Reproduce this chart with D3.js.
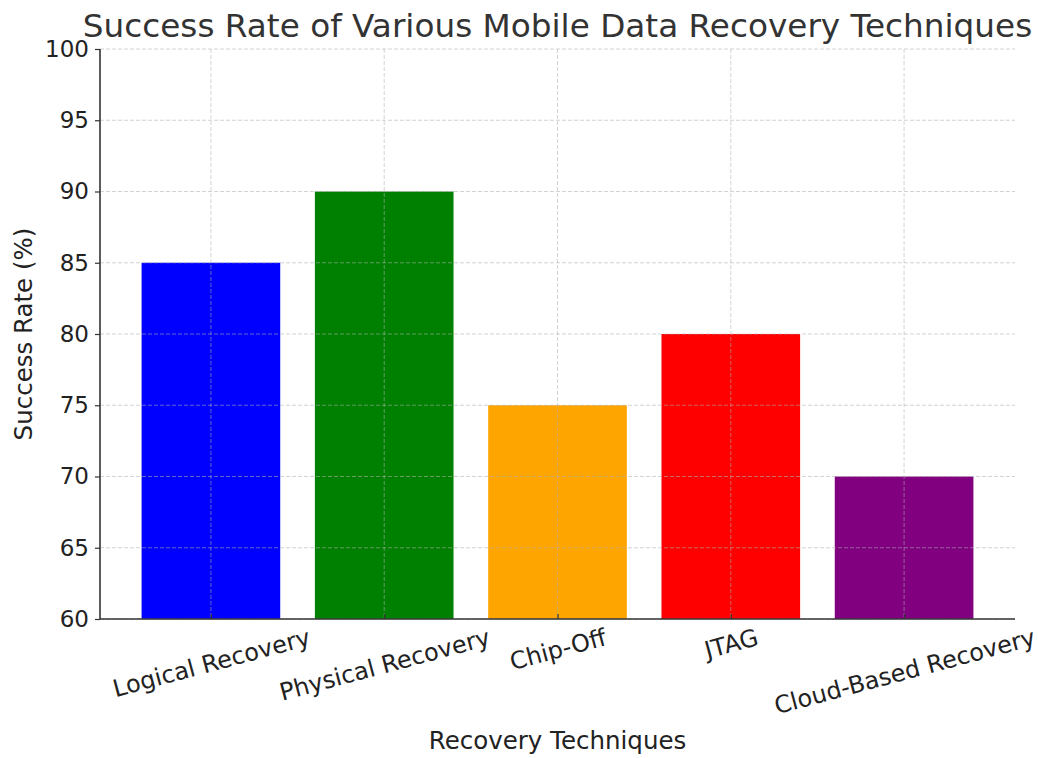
<!DOCTYPE html>
<html><head><meta charset="utf-8">
<script src="https://cdn.jsdelivr.net/npm/d3@7"></script>
<style>body{margin:0;background:#fff;} svg{display:block;font-family:"DejaVu Sans",sans-serif;}</style>
</head><body>
<script>
const categories = ["Logical Recovery","Physical Recovery","Chip-Off","JTAG","Cloud-Based Recovery"];
const values = [85, 90, 75, 80, 70];
const colors = ["blue","green","orange","red","purple"];
const yTicks = [60,65,70,75,80,85,90,95,100];
const title = "Success Rate of Various Mobile Data Recovery Techniques";
const xLabel = "Recovery Techniques";
const yLabel = "Success Rate (%)";

const W = 1038, H = 758;
const m = {left:100, right:23, top:49, bottom:139};
const svg = d3.select("body").append("svg").attr("width",W).attr("height",H);
const iw = W - m.left - m.right, ih = H - m.top - m.bottom;
const g = svg.append("g").attr("transform",`translate(${m.left},${m.top})`);

const x = d3.scaleLinear().domain([-0.64, categories.length - 1 + 0.64]).range([0, iw]);
const y = d3.scaleLinear().domain([60,100]).range([ih,0]);

// bars
g.selectAll("rect.bar").data(values).join("rect")
  .attr("x",(d,i)=>x(i-0.4)).attr("width",(d,i)=>x(i+0.4)-x(i-0.4))
  .attr("y",d=>y(d)).attr("height",d=>ih-y(d))
  .attr("fill",(d,i)=>colors[i]);

// grid
const grid = g.append("g").attr("stroke","#b0b0b0").attr("stroke-opacity",0.7).attr("stroke-dasharray","4,2").attr("stroke-width",0.8);
grid.selectAll("line.h").data(yTicks).join("line")
  .attr("x1",0).attr("x2",iw).attr("y1",d=>y(d)).attr("y2",d=>y(d));
grid.selectAll("line.v").data(categories).join("line")
  .attr("x1",(d,i)=>x(i)).attr("x2",(d,i)=>x(i)).attr("y1",0).attr("y2",ih);

// axes
const ya = g.append("g").call(d3.axisLeft(y).tickValues(yTicks).tickSize(5).tickPadding(6));
ya.select(".domain").attr("stroke","#333").attr("stroke-width",1.6).attr("d",`M0,${ih}V0`);
ya.selectAll(".tick line").attr("stroke","#333").attr("stroke-width",1.2);
ya.selectAll("text").attr("font-size",23).attr("fill","#222").attr("font-family","DejaVu Sans");

const xa = g.append("g").attr("transform",`translate(0,${ih})`)
  .call(d3.axisBottom(x).tickValues(d3.range(categories.length)).tickFormat(i=>categories[i]).tickSize(5).tickPadding(6));
xa.select(".domain").attr("stroke","#333").attr("stroke-width",1.6).attr("d",`M0,0H${iw}`);
xa.selectAll(".tick line").attr("stroke","#333").attr("stroke-width",1.2).attr("y2",-5);
const ang = 15 * Math.PI / 180;
xa.selectAll("text").attr("font-size",24).attr("fill","#222").attr("font-family","DejaVu Sans")
  .attr("text-anchor","middle").attr("dy","0.35em").attr("y",0)
  .each(function(){
    const w = this.getComputedTextLength();
    const h = 28;
    const bh = w*Math.sin(ang) + h*Math.cos(ang);
    d3.select(this).attr("transform",`translate(0,${4 + bh/2}) rotate(-15)`);
  });

// labels
svg.append("text").attr("x", m.left+iw/2).attr("y",37).attr("text-anchor","middle")
  .attr("font-size",32.7).attr("fill","#333").text(title);
svg.append("text").attr("x", m.left+iw/2).attr("y",749).attr("text-anchor","middle")
  .attr("font-size",24.5).attr("fill","#222").text(xLabel);
svg.append("text").attr("transform",`translate(32,${m.top+ih/2}) rotate(-90)`).attr("text-anchor","middle")
  .attr("font-size",24.5).attr("fill","#222").text(yLabel);
</script>
</body></html>
